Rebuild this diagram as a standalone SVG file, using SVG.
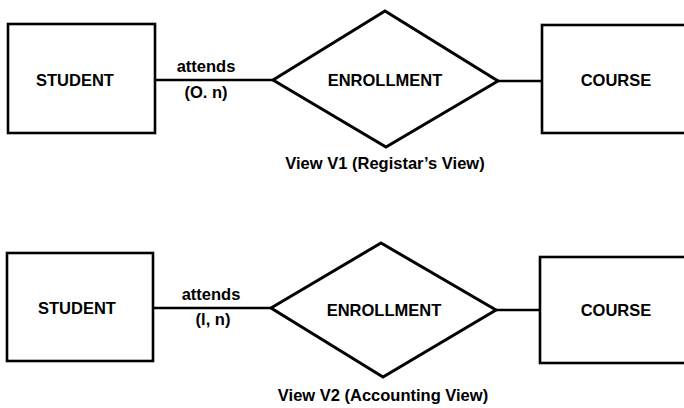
<svg xmlns="http://www.w3.org/2000/svg" width="684" height="408" viewBox="0 0 684 408">
  <style>
    .box { fill: none; stroke: #000; stroke-width: 2.6; }
    .rel { fill: none; stroke: #000; stroke-width: 3; stroke-linejoin: miter; }
    .link { stroke: #000; stroke-width: 2.6; fill: none; }
    text { font-family: "Liberation Sans", Arial, sans-serif; font-weight: bold; fill: #000; text-anchor: middle; }
    .name { font-size: 16.5px; }
    .role { font-size: 16.5px; }
    .caption { font-size: 16.5px; }
  </style>
  <rect width="684" height="408" fill="#fff"/>

  <!-- View V1 -->
  <g id="v1-links">
    <line class="link" x1="155" y1="80" x2="273" y2="80"/>
    <line class="link" x1="498" y1="81" x2="542" y2="81"/>
    <text class="role" x="206" y="72">attends</text>
    <text class="role" x="206" y="98">(O. n)</text>
  </g>
  <g id="v1-student">
    <rect class="box" x="8" y="24" width="147" height="109"/>
    <text class="name" x="75" y="86">STUDENT</text>
  </g>
  <g id="v1-enrollment">
    <polygon class="rel" points="273,80 385,11 498,81 386,147"/>
    <text class="name" x="385" y="86">ENROLLMENT</text>
  </g>
  <g id="v1-course">
    <rect class="box" x="542" y="25" width="150" height="108"/>
    <text class="name" x="616" y="86">COURSE</text>
  </g>
  <text class="caption" x="385" y="169">View V1 (Registar’s View)</text>

  <!-- View V2 -->
  <g id="v2-links">
    <line class="link" x1="153" y1="308" x2="271" y2="308"/>
    <line class="link" x1="496" y1="310" x2="540" y2="310"/>
    <text class="role" x="211" y="300">attends</text>
    <text class="role" x="213" y="325">(l, n)</text>
  </g>
  <g id="v2-student">
    <rect class="box" x="7" y="253" width="146" height="108"/>
    <text class="name" x="77" y="314">STUDENT</text>
  </g>
  <g id="v2-enrollment">
    <polygon class="rel" points="271,308 381,243 496,310 383,377"/>
    <text class="name" x="384" y="316">ENROLLMENT</text>
  </g>
  <g id="v2-course">
    <rect class="box" x="540" y="257" width="152" height="106"/>
    <text class="name" x="616" y="316">COURSE</text>
  </g>
  <text class="caption" x="383" y="401">View V2 (Accounting View)</text>
</svg>
